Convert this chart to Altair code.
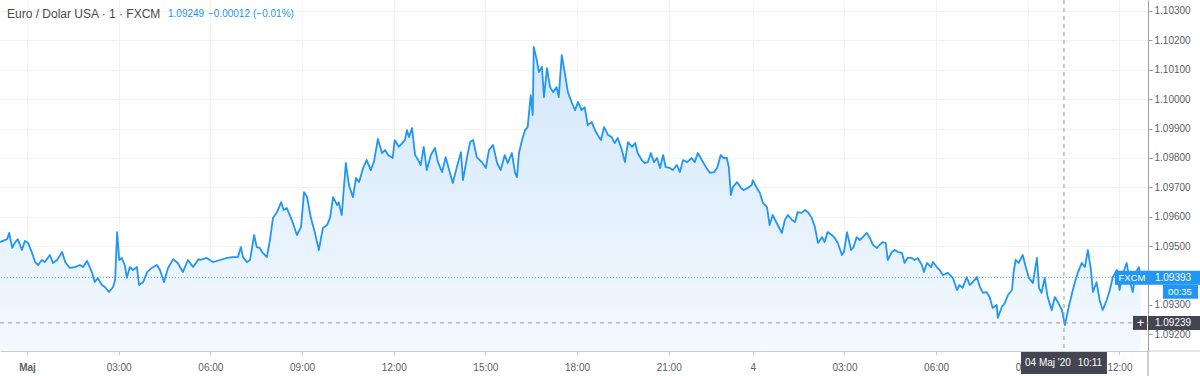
import altair as alt
import pandas as pd

# ---- data: EUR/USD 1-minute series (minute index from chart start, price) ----
seg1_min = [0,14,18,24,29,35,43,49,55,63,69,75,82,88,98,104,112,122,128,137,147,157,163,171,181,186,192,200,206,214,222,226,230,234,239,245,249,255,261,269,273,281,289,298,308,314,322,330,340,349,359,369,379,390]
seg1_px = [1.09514,1.09524,1.09545,1.09494,1.09511,1.09524,1.09487,1.09518,1.09511,1.09477,1.09446,1.09436,1.09453,1.09446,1.09470,1.09443,1.09453,1.09480,1.09446,1.09426,1.09429,1.09436,1.09429,1.09450,1.09409,1.09378,1.09392,1.09368,1.09361,1.09344,1.09361,1.09385,1.09548,1.09453,1.09460,1.09436,1.09392,1.09429,1.09419,1.09429,1.09368,1.09378,1.09412,1.09426,1.09436,1.09419,1.09378,1.09426,1.09456,1.09443,1.09412,1.09453,1.09429,1.09456]

seg2_min = [393,406,418,432,446,457,467,473,477,485,491,499,504,510,516,524,530,536,544,552,557,563,573,583,591,597,603,610,618,626,634,642,648,654,662,665,671,679,685,693,699,705,713,720,728,734,742,750,756,762,771,775,783]
seg2_px = [1.09453,1.09460,1.09446,1.09453,1.09460,1.09463,1.09463,1.09497,1.09463,1.09446,1.09453,1.09538,1.09497,1.09494,1.09477,1.09463,1.09521,1.09596,1.09616,1.09650,1.09623,1.09630,1.09589,1.09538,1.09565,1.09684,1.09667,1.09599,1.09548,1.09487,1.09562,1.09572,1.09596,1.09667,1.09640,1.09650,1.09606,1.09783,1.09708,1.09667,1.09732,1.09718,1.09766,1.09793,1.09759,1.09786,1.09865,1.09817,1.09827,1.09810,1.09800,1.09861,1.09838]

seg3_min = [795,799,803,809,815,821,826,832,838,846,854,860,868,875,883,889,897,905,909,917,923,929,936,946,954,960,968,976,983,991,997,1005,1011,1015,1019,1025,1031,1036,1042,1046,1048,1054,1058,1064,1068,1074,1080,1086,1093,1097,1103,1109,1115,1123,1129,1135,1142,1148,1154,1162,1168,1176]
seg3_px = [1.09861,1.09895,1.09871,1.09902,1.09810,1.09793,1.09776,1.09838,1.09759,1.09810,1.09834,1.09786,1.09752,1.09803,1.09752,1.09715,1.09769,1.09820,1.09725,1.09803,1.09854,1.09861,1.09803,1.09786,1.09766,1.09827,1.09844,1.09783,1.09759,1.09810,1.09783,1.09817,1.09752,1.09735,1.09817,1.09861,1.09895,1.09905,1.10014,1.09946,1.10178,1.10133,1.10092,1.10110,1.10007,1.10106,1.10041,1.10024,1.10041,1.10007,1.10150,1.10089,1.10024,1.09987,1.09963,1.09990,1.09963,1.09973,1.09912,1.09922,1.09895,1.09871]

seg4_min = [1180,1186,1194,1201,1207,1213,1221,1227,1233,1241,1247,1252,1260,1266,1272,1278,1284,1290,1296,1302,1307,1315,1321,1329,1335,1341,1349,1358,1364,1370,1378,1386,1394,1402,1408,1415,1421,1427,1431,1435,1439,1447,1455,1460,1468,1476,1478,1486,1492,1498,1506,1511,1517,1525]
seg4_px = [1.09861,1.09905,1.09878,1.09871,1.09851,1.09868,1.09827,1.09786,1.09854,1.09838,1.09851,1.09817,1.09793,1.09783,1.09786,1.09817,1.09786,1.09800,1.09766,1.09810,1.09769,1.09766,1.09759,1.09776,1.09752,1.09793,1.09786,1.09800,1.09786,1.09817,1.09793,1.09769,1.09749,1.09752,1.09766,1.09810,1.09800,1.09800,1.09769,1.09674,1.09701,1.09718,1.09698,1.09691,1.09698,1.09708,1.09725,1.09698,1.09681,1.09647,1.09633,1.09572,1.09606,1.09579]

seg5_min = [1535,1541,1547,1555,1561,1566,1574,1580,1586,1594,1600,1606,1614,1619,1625,1633,1639,1645,1653,1657,1663,1671,1676,1682,1688,1694,1702,1708,1714,1722,1727,1733,1739,1743,1751,1757,1763,1771,1776,1782,1790,1796,1802,1810,1814,1820,1828,1832,1839]
seg5_px = [1.09545,1.09589,1.09606,1.09589,1.09582,1.09616,1.09613,1.09623,1.09616,1.09596,1.09565,1.09511,1.09531,1.09514,1.09548,1.09538,1.09528,1.09511,1.09470,1.09480,1.09548,1.09487,1.09497,1.09531,1.09521,1.09531,1.09545,1.09528,1.09504,1.09494,1.09504,1.09514,1.09511,1.09453,1.09480,1.09487,1.09480,1.09477,1.09443,1.09460,1.09460,1.09453,1.09460,1.09436,1.09412,1.09443,1.09429,1.09446,1.09429]

seg6_min = [1845,1851,1861,1871,1879,1884,1890,1898,1904,1910,1918,1924,1930,1937,1943,1949,1957,1959,1967,1973,1979,1987,1990,1994,2000,2008,2014,2020,2028,2036,2040,2045,2051,2057,2065,2071,2077,2085,2091,2097,2104,2110,2116,2124,2130,2136,2142,2146,2153,2159,2165,2173,2179,2185,2193,2198,2204,2212,2218,2224,2230,2236,2240]
seg6_px = [1.09419,1.09402,1.09409,1.09392,1.09351,1.09368,1.09358,1.09395,1.09368,1.09378,1.09395,1.09361,1.09341,1.09344,1.09327,1.09290,1.09300,1.09256,1.09293,1.09307,1.09334,1.09351,1.09409,1.09453,1.09443,1.09470,1.09429,1.09392,1.09375,1.09460,1.09358,1.09341,1.09392,1.09327,1.09283,1.09327,1.09310,1.09283,1.09232,1.09283,1.09334,1.09375,1.09409,1.09443,1.09429,1.09487,1.09419,1.09344,1.09378,1.09317,1.09283,1.09317,1.09351,1.09395,1.09419,1.09351,1.09402,1.09443,1.09385,1.09344,1.09409,1.09429,1.09393]

minutes = seg1_min + seg2_min + seg3_min + seg4_min + seg5_min + seg6_min
prices = seg1_px + seg2_px + seg3_px + seg4_px + seg5_px + seg6_px
n = min(len(minutes), len(prices))
df = pd.DataFrame({"m": minutes[:n], "p": prices[:n]})

# axis ticks
y_ticks = [1.092, 1.093, 1.094, 1.095, 1.096, 1.097, 1.098, 1.099, 1.100, 1.101, 1.102, 1.103]
x_tick_pos = [53, 233, 413, 593, 773, 953, 1133, 1313, 1478, 1658, 1838, 2018, 2198]
x_tick_lab = ["Maj", "03:00", "06:00", "09:00", "12:00", "15:00", "18:00", "21:00", "4", "03:00", "06:00", "09:00", "12:00"]

Y_MIN, Y_MAX = 1.091435, 1.103374
X_MAX = 2254

last_price = 1.09393
cross_price = 1.09239
cross_min = 2089
countdown = "00:35"
cross_date = "04 Maj '20"
cross_time = "10:11"
title_txt = "Euro / Dolar USA · 1 · FXCM"
val_close = "1.09249"
val_chg = "−0.00012"
val_pct = "(−0.01%)"

W, H = 1148, 351
FONT = "Liberation Sans"
BLUE = "#2196F3"
DARK = "#434651"
GRID = "#f0f2f5"
LABEL = "#5d606b"

xs = alt.Scale(domain=[0, X_MAX], nice=False, zero=False)
ys = alt.Scale(domain=[Y_MIN, Y_MAX], nice=False, zero=False)

label_expr = ("[" + ",".join("'%s'" % l for l in x_tick_lab) + "][indexof(["
              + ",".join(str(v) for v in x_tick_pos) + "], datum.value)]")

x_axis = alt.Axis(values=x_tick_pos, labelExpr=label_expr, grid=True, gridColor=GRID,
                  domainColor="#c9ccd2", tickColor="#c9ccd2", tickSize=4, labelColor=LABEL,
                  labelFontSize=10, labelFont=FONT, labelPadding=7, title=None,
                  labelOverlap=False, labelFlush=False,
                  labelFontWeight={"condition": {"test": "datum.value == 53", "value": "bold"}, "value": "normal"})
y_axis = alt.Axis(orient="right", values=y_ticks, format=".5f", grid=True, gridColor=GRID,
                  domainColor="#9a9da5", tickColor="#9a9da5", tickSize=4, labelPadding=2,
                  labelColor=LABEL, labelFontSize=10, labelFont=FONT, title=None,
                  labelOverlap=False, labelFlush=False, labelBound=False)


# every layer gets the same scale and axis definition, so the merged axes keep their settings
def Xf(f):
    return alt.X(f, type="quantitative", scale=xs, axis=x_axis)


def Yf(f):
    return alt.Y(f, type="quantitative", scale=ys, axis=y_axis)


def Yd(v):
    return alt.YDatum(v, scale=ys, axis=y_axis)


def Xd(v):
    return alt.XDatum(v, scale=xs, axis=x_axis)


base = alt.Chart(df)

grad = alt.Gradient(gradient="linear",
                    stops=[alt.GradientStop(color="#d2e7fb", offset=0),
                           alt.GradientStop(color="#f4f9fe", offset=1)],
                    x1=1, x2=1, y1=0, y2=1)

area = base.mark_area(color=grad, clip=True).encode(
    x=Xf("m"), y=Yf("p"), y2=alt.datum(Y_MIN))
line = base.mark_line(color=BLUE, strokeWidth=1.8, strokeJoin="round", clip=True).encode(
    x=Xf("m"), y=Yf("p"))

last_rule = alt.Chart(pd.DataFrame({"p": [last_price]})).mark_rule(
    color=BLUE, strokeDash=[1, 2], opacity=0.75, strokeWidth=1).encode(y=Yf("p"))
cross_h = alt.Chart(pd.DataFrame({"p": [cross_price]})).mark_rule(
    color="#9598a1", strokeDash=[4, 4], strokeWidth=1).encode(y=Yf("p"))
cross_v = alt.Chart(pd.DataFrame({"m": [cross_min]})).mark_rule(
    color="#9598a1", strokeDash=[4, 4], strokeWidth=1).encode(x=Xf("m"))

one = alt.Chart(pd.DataFrame({"a": [0]}))

# extensions of axis lines into the label zones
ext_v = one.mark_rule(color="#9a9da5").encode(x=alt.value(W), y=alt.value(H), y2=alt.value(376))
ext_h = one.mark_rule(color="#c9ccd2").encode(x=alt.value(W), x2=alt.value(1200), y=alt.value(H))

# price label boxes
fx_box = one.mark_rect(height=14, color=BLUE).encode(x=alt.value(1115), x2=alt.value(W), y=Yd(last_price))
fx_txt = one.mark_text(color="white", fontSize=9.5, font=FONT, align="center", baseline="middle").encode(
    x=alt.value(1132), y=Yd(last_price), text=alt.value("FXCM"))
lp_box = one.mark_rect(height=14, color=BLUE).encode(x=alt.value(W), x2=alt.value(1200), y=Yd(last_price))
lp_txt = one.mark_text(color="white", fontSize=10, font=FONT, align="center", baseline="middle").encode(
    x=alt.value(1173), y=Yd(last_price), text=alt.value("%.5f" % last_price))
cd_box = one.mark_rect(height=14, yOffset=14, color=BLUE).encode(x=alt.value(1163), x2=alt.value(1198), y=Yd(last_price))
cd_txt = one.mark_text(color="white", fontSize=9.5, font=FONT, align="center", baseline="middle", dy=14).encode(
    x=alt.value(1180), y=Yd(last_price), text=alt.value(countdown))

plus_box = one.mark_rect(height=14, color=DARK).encode(x=alt.value(1133), x2=alt.value(W - 1), y=Yd(cross_price))
plus_txt = one.mark_text(color="white", fontSize=13, font=FONT, align="center", baseline="middle").encode(
    x=alt.value(1140.5), y=Yd(cross_price), text=alt.value("+"))
cp_box = one.mark_rect(height=14, color=DARK).encode(x=alt.value(W), x2=alt.value(1200), y=Yd(cross_price))
cp_txt = one.mark_text(color="white", fontSize=10, font=FONT, align="center", baseline="middle").encode(
    x=alt.value(1173), y=Yd(cross_price), text=alt.value("%.5f" % cross_price))

ct_box = one.mark_rect(width=86, color=DARK).encode(
    x=Xd(cross_min), y=alt.value(H + 1), y2=alt.value(374))
ct_txt1 = one.mark_text(color="white", fontSize=10, font=FONT, align="center", baseline="middle", dx=-16).encode(
    x=Xd(cross_min), y=alt.value(363), text=alt.value(cross_date))
ct_txt2 = one.mark_text(color="white", fontSize=10, font=FONT, align="center", baseline="middle", dx=26).encode(
    x=Xd(cross_min), y=alt.value(363), text=alt.value(cross_time))

# legend/title line
t1 = one.mark_text(color="#4a4a4a", fontSize=12, font=FONT, align="left", baseline="middle").encode(
    x=alt.value(7), y=alt.value(14), text=alt.value(title_txt))
t2 = one.mark_text(color=BLUE, fontSize=10, font=FONT, align="left", baseline="middle").encode(
    x=alt.value(168), y=alt.value(14), text=alt.value(val_close))
t3 = one.mark_text(color=BLUE, fontSize=10, font=FONT, align="left", baseline="middle").encode(
    x=alt.value(208), y=alt.value(14), text=alt.value(val_chg))
t4 = one.mark_text(color=BLUE, fontSize=10, font=FONT, align="left", baseline="middle").encode(
    x=alt.value(253), y=alt.value(14), text=alt.value(val_pct))

chart = alt.layer(
    area, line, last_rule, cross_h, cross_v, ext_v, ext_h,
    fx_box, fx_txt, lp_box, lp_txt, cd_box, cd_txt,
    plus_box, plus_txt, cp_box, cp_txt,
    ct_box, ct_txt1, ct_txt2, t1, t2, t3, t4,
).properties(
    width=W, height=H,
    autosize=alt.AutoSizeParams(type="none"),
    padding={"left": 0, "top": 0, "right": 52, "bottom": 25},
    background="white",
).configure_view(stroke=None)

chart.save("out.html", embed_options={"renderer": "svg", "actions": False})
